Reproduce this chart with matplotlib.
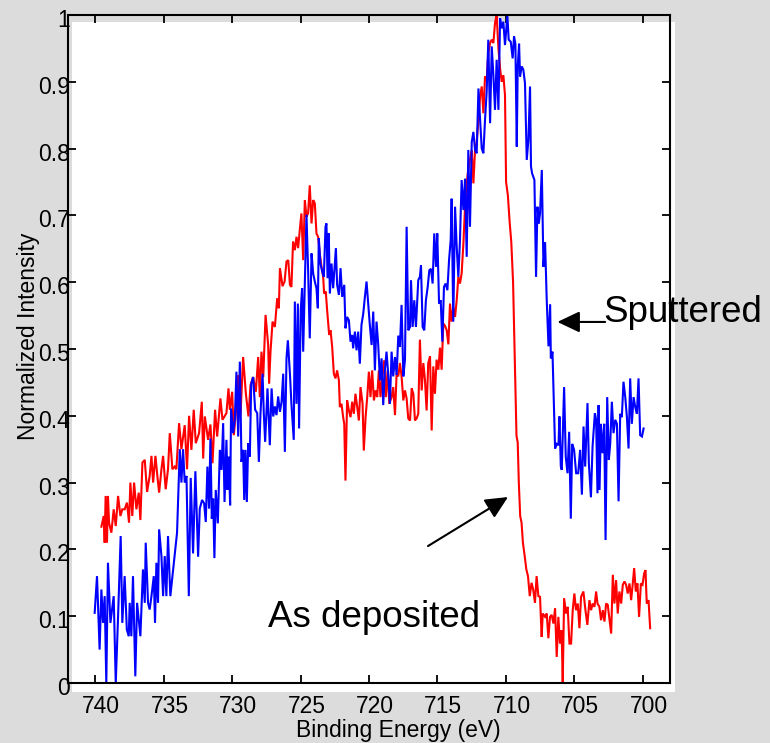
import matplotlib
matplotlib.use('Agg')
import matplotlib.pyplot as plt
import matplotlib.transforms as mtransforms
from matplotlib.patches import Rectangle

plt.rcParams['font.family'] = ['Liberation Sans', 'DejaVu Sans']

# ---------------- data ----------------
RED_E = [
    739.56, 739.39, 739.32, 739.25, 739.15, 739.08, 739.00, 738.83, 738.66, 738.51,
    738.34, 738.17, 738.03, 737.86, 737.69, 737.54, 737.44, 737.30, 737.17, 737.00,
    736.83, 736.71, 736.56, 736.39, 736.22, 736.03, 735.90, 735.78, 735.61, 735.47,
    735.34, 735.17, 735.05, 734.86, 734.69, 734.56, 734.37, 734.20, 734.08, 733.88,
    733.71, 733.47, 733.30, 733.15, 732.98, 732.81, 732.66, 732.42, 732.22, 732.12,
    732.00, 731.76, 731.59, 731.44, 731.25, 731.10, 730.86, 730.71, 730.42, 730.27,
    730.17, 730.00, 729.88, 729.73, 729.56, 729.39, 729.20, 729.00, 728.81, 728.66,
    728.47, 728.27, 728.10, 727.98, 727.86, 727.73, 727.56, 727.37, 727.30, 727.20,
    727.05, 726.88, 726.71, 726.59, 726.51, 726.32, 726.17, 726.03, 725.90, 725.78,
    725.67, 725.55, 725.42, 725.30, 725.18, 725.06, 724.94, 724.81, 724.69, 724.57,
    724.45, 724.33, 724.20, 724.08, 723.96, 723.84, 723.72, 723.60, 723.47, 723.35,
    723.28, 723.16, 723.06, 722.91, 722.81, 722.69, 722.57, 722.45, 722.33, 722.20,
    722.13, 722.01, 721.89, 721.81, 721.72, 721.60, 721.47, 721.35, 721.23, 721.11,
    720.99, 720.86, 720.74, 720.62, 720.47, 720.38, 720.25, 720.13, 720.01, 719.89,
    719.77, 719.64, 719.52, 719.40, 719.28, 719.16, 719.01, 718.89, 718.77, 718.64,
    718.52, 718.35, 718.23, 718.10, 717.98, 717.86, 717.74, 717.62, 717.49, 717.37,
    717.25, 717.13, 717.00, 716.88, 716.76, 716.64, 716.52, 716.40, 716.28, 716.15,
    716.03, 715.91, 715.79, 715.67, 715.54, 715.42, 715.30, 715.18, 715.06, 714.93,
    714.81, 714.69, 714.57, 714.45, 714.32, 714.20, 714.08, 713.96, 713.84, 713.71,
    713.59, 713.47, 713.35, 713.23, 713.10, 712.98, 712.86, 712.74, 712.62, 712.49,
    712.37, 712.25, 712.13, 712.00, 711.88, 711.76, 711.64, 711.52, 711.40, 711.28,
    711.15, 711.03, 710.91, 710.79, 710.67, 710.54, 710.42, 710.30, 710.18, 710.06,
    709.98, 709.85, 709.72, 709.60, 709.47, 709.35, 709.22, 709.13, 709.05, 708.95,
    708.85, 708.75, 708.62, 708.50, 708.38, 708.25, 708.12, 708.00, 707.87, 707.75,
    707.62, 707.50, 707.38, 707.30, 707.13, 707.01, 706.89, 706.77, 706.65, 706.52,
    706.40, 706.28, 706.16, 706.04, 705.92, 705.84, 705.74, 705.60, 705.48, 705.35,
    705.23, 705.11, 704.99, 704.87, 704.74, 704.62, 704.50, 704.33, 704.18, 704.04,
    703.89, 703.77, 703.65, 703.52, 703.40, 703.30, 703.16, 703.04, 702.91, 702.79,
    702.67, 702.55, 702.43, 702.30, 702.18, 702.06, 701.94, 701.82, 701.70, 701.57,
    701.45, 701.33, 701.21, 701.09, 700.96, 700.84, 700.72, 700.62, 700.50, 700.38,
    700.26, 700.13, 700.01, 699.89, 699.79, 699.70, 699.57, 699.45,
]
RED_I = [
    0.234, 0.25, 0.21, 0.28, 0.21, 0.28, 0.24, 0.225, 0.26, 0.235,
    0.28, 0.25, 0.26, 0.26, 0.27, 0.24, 0.30, 0.25, 0.30, 0.26,
    0.285, 0.244, 0.33, 0.334, 0.286, 0.31, 0.34, 0.30, 0.34, 0.31,
    0.285, 0.32, 0.34, 0.29, 0.32, 0.374, 0.32, 0.324, 0.32, 0.389,
    0.35, 0.386, 0.32, 0.40, 0.349, 0.409, 0.359, 0.374, 0.421, 0.336,
    0.399, 0.364, 0.387, 0.329, 0.409, 0.369, 0.426, 0.394, 0.404, 0.441,
    0.409, 0.436, 0.371, 0.404, 0.461, 0.401, 0.488, 0.433, 0.399, 0.446,
    0.458, 0.436, 0.488, 0.428, 0.496, 0.458, 0.551, 0.506, 0.448, 0.496,
    0.541, 0.533, 0.576, 0.561, 0.621, 0.594, 0.601, 0.631, 0.633, 0.596,
    0.593, 0.661, 0.648, 0.668, 0.651, 0.678, 0.703, 0.633, 0.723, 0.698,
    0.703, 0.745, 0.688, 0.723, 0.718, 0.673, 0.668, 0.643, 0.623, 0.608,
    0.583, 0.586, 0.558, 0.521, 0.528, 0.503, 0.463, 0.456, 0.468, 0.453,
    0.413, 0.418, 0.398, 0.388, 0.303, 0.423, 0.408, 0.398, 0.421, 0.403,
    0.433, 0.413, 0.393, 0.443, 0.418, 0.348, 0.398, 0.428, 0.466, 0.428,
    0.468, 0.423, 0.438, 0.428, 0.468, 0.428, 0.463, 0.483, 0.428, 0.468,
    0.418, 0.428, 0.443, 0.401, 0.464, 0.459, 0.479, 0.459, 0.423, 0.438,
    0.426, 0.396, 0.393, 0.441, 0.433, 0.393, 0.396, 0.403, 0.514, 0.438,
    0.479, 0.454, 0.408, 0.479, 0.489, 0.378, 0.474, 0.433, 0.484, 0.469,
    0.502, 0.469, 0.538, 0.535, 0.528, 0.507, 0.568, 0.541, 0.563, 0.548,
    0.573, 0.608, 0.598, 0.613, 0.658, 0.713, 0.748, 0.770, 0.783, 0.798,
    0.748, 0.798, 0.810, 0.843, 0.878, 0.893, 0.853, 0.908, 0.903, 0.943,
    0.958, 0.963, 0.958, 0.988, 1.0, 0.95, 0.92, 0.90, 0.91, 0.88,
    0.75, 0.73, 0.69, 0.66, 0.60, 0.49, 0.37, 0.36, 0.30, 0.25,
    0.24, 0.21, 0.19, 0.17, 0.16, 0.13, 0.15, 0.14, 0.12, 0.16,
    0.13, 0.129, 0.069, 0.104, 0.099, 0.104, 0.067, 0.099, 0.102, 0.089,
    0.112, 0.039, 0.099, 0.059, 0.079, 0.0, 0.127, 0.104, 0.114, 0.059,
    0.059, 0.109, 0.134, 0.109, 0.119, 0.082, 0.129, 0.137, 0.109, 0.087,
    0.124, 0.109, 0.119, 0.114, 0.137, 0.119, 0.114, 0.094, 0.109, 0.092,
    0.119, 0.117, 0.097, 0.074, 0.162, 0.119, 0.154, 0.104, 0.137, 0.119,
    0.147, 0.152, 0.147, 0.134, 0.149, 0.124, 0.149, 0.172, 0.137, 0.149,
    0.099, 0.149, 0.147, 0.164, 0.169, 0.119, 0.124, 0.082,
]

BLUE_E = [
    740.05, 739.88, 739.69, 739.56, 739.44, 739.32, 739.20, 739.08, 738.90, 738.66,
    738.51, 738.34, 738.15, 738.03, 737.86, 737.70, 737.56, 737.49, 737.37, 737.25,
    737.08, 736.95, 736.71, 736.52, 736.39, 736.32, 736.15, 736.03, 735.90, 735.73,
    735.64, 735.54, 735.42, 735.34, 735.17, 735.05, 734.93, 734.81, 734.69, 734.52,
    734.03, 733.83, 733.71, 733.59, 733.47, 733.34, 733.17, 733.03, 732.86,
    732.69, 732.49, 732.37, 732.20, 732.05, 731.93, 731.81, 731.69, 731.59, 731.49,
    731.39, 731.30, 731.20, 731.05, 730.90, 730.78, 730.66, 730.56, 730.42, 730.34,
    730.25, 730.15, 730.08, 729.93, 729.81, 729.69, 729.56, 729.44, 729.32, 729.20,
    729.12, 729.03, 728.93, 728.83, 728.71, 728.61, 728.47, 728.32, 728.17, 728.05,
    727.93, 727.78, 727.69, 727.59, 727.42, 727.25, 727.12, 727.00, 726.88, 726.76,
    726.64, 726.51, 726.39, 726.27, 726.15, 726.03, 725.93, 725.78, 725.67, 725.50,
    725.42, 725.30, 725.20, 725.11, 724.99, 724.89, 724.81, 724.69, 724.57, 724.45,
    724.33, 724.20, 724.08, 723.96, 723.84, 723.74, 723.67, 723.55, 723.42, 723.30,
    723.18, 723.11, 723.03, 722.94, 722.86, 722.74, 722.62, 722.50, 722.42, 722.33,
    722.20, 722.08, 721.96, 721.81, 721.72, 721.60, 721.47, 721.35, 721.23, 721.16,
    721.03, 720.91, 720.79, 720.67, 720.55, 720.42, 720.30, 720.18, 720.06, 719.94,
    719.81, 719.69, 719.57, 719.45, 719.33, 719.20, 719.08, 718.96, 718.84, 718.72,
    718.60, 718.47, 718.35, 718.23, 718.10, 717.98, 717.86, 717.74, 717.62, 717.49,
    717.37, 717.25, 717.13, 717.00, 716.93, 716.81, 716.69, 716.57, 716.40, 716.28,
    716.20, 716.08, 715.96, 715.84, 715.71, 715.59, 715.47, 715.35, 715.23, 715.10,
    715.01, 714.88, 714.76, 714.64, 714.52, 714.40, 714.27, 714.15, 714.03, 713.96,
    713.84, 713.71, 713.59, 713.47, 713.35, 713.23, 713.10, 712.98, 712.86, 712.74,
    712.62, 712.49, 712.37, 712.25, 712.13, 712.00, 711.88, 711.76, 711.64, 711.52,
    711.40, 711.28, 711.15, 711.03, 710.91, 710.79, 710.67, 710.54, 710.42, 710.30,
    710.18, 710.06, 709.98, 709.89, 709.79, 709.64, 709.50, 709.40, 709.30, 709.20,
    709.13, 709.03, 708.96, 708.84, 708.72, 708.60, 708.47, 708.35, 708.23, 708.16,
    708.08, 707.91, 707.79, 707.69, 707.59, 707.50, 707.37, 707.25, 707.13, 707.01,
    706.88, 706.76, 706.71, 706.59, 706.40, 706.27, 706.15, 706.08, 705.98, 705.91,
    705.74, 705.62, 705.49, 705.37, 705.25, 705.15, 705.01, 704.86, 704.71, 704.57,
    704.44, 704.32, 704.20, 704.03, 703.93, 703.78, 703.66, 703.49, 703.40, 703.30,
    703.22, 703.15, 703.05, 702.93, 702.81, 702.71, 702.59, 702.47, 702.37, 702.25,
    702.13, 702.00, 701.88, 701.76, 701.64, 701.52, 701.40, 701.27, 701.15, 701.03,
    700.91, 700.79, 700.66, 700.54, 700.42, 700.30, 700.18, 700.05, 699.93,
]
BLUE_I = [
    0.105, 0.16, 0.05, 0.14, 0.09, 0.13, 0.0, 0.18, 0.09, 0.13,
    0.0, 0.10, 0.22, 0.09, 0.16, 0.08, 0.07, 0.12, 0.07, 0.16,
    0.01, 0.12, 0.07, 0.17, 0.12, 0.21, 0.12, 0.11, 0.13, 0.16,
    0.09, 0.18, 0.12, 0.23, 0.19, 0.13, 0.19, 0.13, 0.22, 0.13,
    0.225, 0.35, 0.30, 0.35, 0.30, 0.31, 0.13, 0.307, 0.194,
    0.317, 0.189, 0.261, 0.274, 0.269, 0.241, 0.324, 0.261, 0.366, 0.246,
    0.276, 0.187, 0.289, 0.239, 0.349, 0.319, 0.389, 0.271, 0.364, 0.289,
    0.339, 0.266, 0.411, 0.374, 0.394, 0.466, 0.369, 0.481, 0.331, 0.349,
    0.274, 0.349, 0.271, 0.359, 0.339, 0.448, 0.458, 0.409, 0.404, 0.331,
    0.404, 0.463, 0.404, 0.361, 0.441, 0.356, 0.441, 0.399, 0.414, 0.401,
    0.429, 0.406, 0.421, 0.463, 0.346, 0.486, 0.513, 0.463, 0.418, 0.364,
    0.571, 0.418, 0.568, 0.381, 0.558, 0.591, 0.496, 0.598, 0.701, 0.618,
    0.516, 0.643, 0.613, 0.601, 0.591, 0.561, 0.666, 0.628, 0.616, 0.608,
    0.683, 0.688, 0.606, 0.673, 0.583, 0.628, 0.591, 0.628, 0.651, 0.596,
    0.581, 0.621, 0.578, 0.596, 0.531, 0.548, 0.543, 0.511, 0.521, 0.501,
    0.526, 0.498, 0.526, 0.478, 0.536, 0.553, 0.578, 0.601, 0.568, 0.536,
    0.506, 0.556, 0.468, 0.541, 0.508, 0.453, 0.486, 0.416, 0.468, 0.496,
    0.463, 0.418, 0.496, 0.459, 0.488, 0.461, 0.520, 0.503, 0.566, 0.459,
    0.484, 0.683, 0.528, 0.533, 0.603, 0.533, 0.573, 0.533, 0.603, 0.608,
    0.625, 0.533, 0.528, 0.573, 0.593, 0.618, 0.620, 0.598, 0.673, 0.623,
    0.673, 0.568, 0.573, 0.511, 0.593, 0.598, 0.588, 0.633, 0.663, 0.725,
    0.541, 0.713, 0.653, 0.608, 0.663, 0.753, 0.708, 0.755, 0.638, 0.798,
    0.683, 0.810, 0.825, 0.798, 0.793, 0.890, 0.843, 0.800, 0.793, 0.843,
    0.885, 0.963, 0.838, 0.953, 0.910, 0.858, 0.933, 0.858, 0.995, 0.98,
    0.99, 0.955, 0.975, 1.0, 0.963, 0.96, 0.935, 0.968, 0.957, 0.803,
    0.923, 0.957, 0.908, 0.923, 0.918, 0.898, 0.783, 0.813, 0.893, 0.773,
    0.763, 0.753, 0.608, 0.713, 0.688, 0.703, 0.768, 0.623, 0.660, 0.573,
    0.504, 0.567, 0.486, 0.496, 0.351, 0.358, 0.356, 0.399, 0.324, 0.319,
    0.443, 0.339, 0.314, 0.376, 0.246, 0.358, 0.349, 0.314, 0.314, 0.349,
    0.282, 0.384, 0.324, 0.419, 0.329, 0.278, 0.354, 0.404, 0.394, 0.284,
    0.416, 0.289, 0.388, 0.344, 0.388, 0.214, 0.428, 0.334, 0.358, 0.421,
    0.374, 0.394, 0.388, 0.272, 0.403, 0.398, 0.451, 0.428, 0.398, 0.351,
    0.456, 0.388, 0.428, 0.413, 0.403, 0.456, 0.371, 0.369, 0.381,
]

XTICKS = [740, 735, 730, 725, 720, 715, 710, 705, 700]
XTICK_LABELS = ['740', '735', '730', '725', '720', '715', '710', '705', '700']
YTICKS = [0, 0.1, 0.2, 0.3, 0.4, 0.5, 0.6, 0.7, 0.8, 0.9, 1.0]
YTICK_LABELS = ['0', '0.1', '0.2', '0.3', '0.4', '0.5', '0.6', '0.7', '0.8', '0.9', '1']

X_LABEL = 'Binding Energy (eV)'
Y_LABEL = 'Normalized Intensity'
LABEL_SPUTTERED = 'Sputtered'
LABEL_DEPOSITED = 'As deposited'

if len(RED_E) != len(RED_I) or len(BLUE_E) != len(BLUE_I):
    raise ValueError(f'length mismatch {len(RED_E)} {len(RED_I)} {len(BLUE_E)} {len(BLUE_I)}')

# ---------------- figure ----------------
W, H = 770, 743
fig = plt.figure(figsize=(W / 100, H / 100), dpi=100, facecolor='#dcdcdc')

# white panel behind the plot (slightly offset, as in the reference)
fig.add_artist(Rectangle((72 / W, 1 - 692 / H), (675 - 72) / W, (692 - 22) / H,
                         transform=fig.transFigure, facecolor='white',
                         edgecolor='none', zorder=-5))

ax = fig.add_axes([68 / W, 1 - 683 / H, (670 - 68) / W, (683 - 15) / H])
ax.set_facecolor('none')

ax.plot(RED_E, RED_I, color='#ff0000', lw=1.5, solid_joinstyle='miter')
ax.plot(BLUE_E, BLUE_I, color='#0000ff', lw=1.5, solid_joinstyle='miter')

ax.set_xlim(742, 698)
ax.set_ylim(0, 1)
ax.set_xticks(XTICKS)
ax.set_xticklabels(XTICK_LABELS)
ax.set_yticks(YTICKS)
ax.set_yticklabels(YTICK_LABELS)

for s in ax.spines.values():
    s.set_linewidth(1.5)
    s.set_color('black')

ax.tick_params(axis='both', direction='in', length=6, width=1.3,
               top=True, right=True, labelsize=16.5, colors='black')
ax.tick_params(axis='x', pad=8.5)
ax.tick_params(axis='y', pad=-1.5)

offx = mtransforms.ScaledTranslation(6 / 100, 0, fig.dpi_scale_trans)
for lab in ax.get_xticklabels():
    lab.set_transform(lab.get_transform() + offx)
offy = mtransforms.ScaledTranslation(0, -3 / 100, fig.dpi_scale_trans)
for lab in ax.get_yticklabels():
    lab.set_transform(lab.get_transform() + offy)

fig.text(398 / W, 6.5 / H, X_LABEL, ha='center', va='baseline', fontsize=16.5)
fig.text(29 / W, 1 - 336 / H, Y_LABEL, ha='center', va='center',
         rotation=90, fontsize=16.5)

# annotations
ax.text(702.9, 0.5405, LABEL_SPUTTERED, fontsize=26.5, ha='left', va='baseline',
        clip_on=False)
ax.annotate('', xy=(706.23, 0.5405), xytext=(702.74, 0.5405),
            arrowprops=dict(arrowstyle='-|>,head_length=1.37,head_width=0.65',
                            mutation_scale=10, lw=1.5, color='black',
                            shrinkA=0, shrinkB=0))

ax.text(727.40, 0.0838, LABEL_DEPOSITED, fontsize=26.5, ha='left', va='baseline')
ax.annotate('', xy=(709.84, 0.2784), xytext=(715.69, 0.205),
            arrowprops=dict(arrowstyle='-|>,head_length=1.37,head_width=0.65',
                            mutation_scale=10, lw=1.5, color='black',
                            shrinkA=0, shrinkB=0))

fig.savefig('out.png', dpi=100, facecolor=fig.get_facecolor())
